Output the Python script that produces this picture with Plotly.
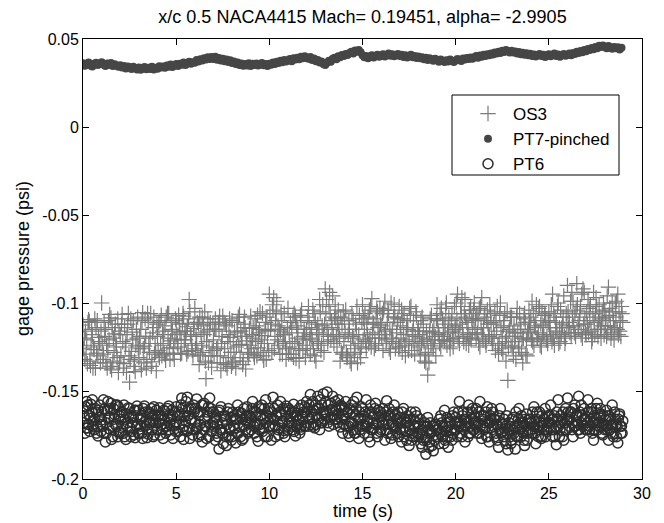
import plotly.graph_objects as go

# ---------------- data ----------------
# three sample sets per 0.1 s step (a, b, c), 0.0 ... 28.97 s
time_a = [i / 10 for i in range(290)]
time_b = [i / 10 + 0.0333 for i in range(290)]
time_c = [i / 10 + 0.0667 for i in range(290)]

# PT7-pinched, units of 1e-4 psi (at time_a)
pt7_e4 = [
    362, 348, 357, 366, 350, 344, 359, 365, 352, 360,
    368, 355, 347, 361, 352, 364, 346, 357, 350, 343,
    351, 338, 346, 333, 344, 340, 329, 342, 335, 326,
    338, 325, 334, 341, 328, 336, 330, 342, 327, 337,
    331, 345, 338, 344, 336, 350, 342, 355, 341, 349,
    358, 346, 360, 354, 366, 352, 363, 371, 359, 368,
    365, 380, 372, 385, 378, 391, 383, 396, 387, 398,
    386, 399, 382, 392, 378, 388, 374, 383, 370, 379,
    364, 372, 358, 366, 352, 361, 348, 358, 350, 362,
    347, 359, 352, 361, 349, 357, 363, 351, 358, 346,
    360, 353, 366, 358, 371, 363, 376, 368, 381, 372,
    379, 386, 374, 390, 383, 394, 385, 399, 390, 402,
    394, 388, 398, 381, 389, 374, 381, 366, 372, 358,
    352, 365, 376, 371, 388, 393, 385, 402, 396, 409,
    403, 415, 409, 421, 427, 418, 435, 428, 438, 425,
    408, 396, 403, 391, 400, 407, 395, 404, 411, 399,
    406, 414, 401, 410, 417, 405, 413, 402, 409, 415,
    404, 411, 398, 407, 395, 403, 410, 397, 404, 392,
    400, 390, 397, 385, 393, 381, 390, 384, 376, 388,
    380, 371, 383, 375, 369, 379, 372, 383, 376, 370,
    378, 386, 381, 375, 389, 383, 392, 386, 395, 388,
    397, 404, 393, 406, 399, 410, 403, 413, 407, 418,
    412, 424, 417, 428, 421, 433, 426, 438, 430, 423,
    433, 424, 429, 418, 426, 414, 422, 411, 419, 408,
    416, 404, 412, 401, 409, 415, 403, 411, 398, 407,
    413, 402, 410, 417, 404, 412, 399, 408, 415, 405,
    411, 418, 407, 421, 415, 428, 420, 432, 425, 437,
    430, 443, 437, 449, 442, 455, 448, 461, 454, 463,
    456, 448, 460, 452, 444, 455, 447, 453, 441, 450,
]

# OS3, units of 1e-4 psi
os3_e4_a = [
    -1125, -1320, -1210, -1095, -1355, -1180, -1265, -1140, -1300, -1230,
    -1000, -1290, -1150, -1370, -1210, -1085, -1330, -1175, -1250, -1395,
    -1180, -1065, -1345, -1230, -1120, -1450, -1275, -1100, -1390, -1200,
    -1310, -1150, -1055, -1245, -1370, -1110, -1200, -1335, -1080, -1280,
    -1190, -1310, -1070, -1240, -1130, -1285, -1060, -1215, -1160, -1320,
    -1100, -1250, -1170, -1285, -1075, -1210, -1135, -980, -1190, -1300,
    -1030, -1230, -1120, -1300, -1080, -1180, -1430, -1090, -1150, -1365,
    -1210, -1090, -1340, -1160, -1385, -1075, -1260, -1130, -1310, -1195,
    -1100, -1280, -1370, -1170, -1065, -1235, -1330, -1140, -1215, -1290,
    -1075, -1200, -1310, -1130, -1255, -1050, -1185, -1325, -1110, -1230,
    -950, -1120, -1040, -1190, -990, -1240, -1160, -1290, -1060, -1320,
    -1030, -1250, -1140, -1310, -1080, -1200, -1330, -1100, -1270, -1170,
    -1150, -1020, -1290, -1210, -1060, -1330, -1120, -980, -1240, -1180,
    -920, -1150, -1020, -1210, -960, -1080, -1190, -1040, -1330, -1120,
    -1220, -1040, -1300, -1150, -1345, -1090, -1260, -1020, -1180, -1310,
    -1010, -1150, -1260, -1080, -1200, -975, -1120, -1240, -1050, -1180,
    -1130, -1270, -990, -1210, -1060, -1280, -1150, -1010, -1230, -1090,
    -1250, -1040, -1180, -1300, -1100, -1220, -1020, -1160, -1290, -1070,
    -1140, -1300, -1080, -1220, -1340, -1410, -1170, -1070, -1260, -1190,
    -1010, -1180, -1250, -1090, -1215, -1000, -1140, -1260, -1060, -1200,
    -1150, -950, -1230, -1060, -1190, -980, -1110, -1240, -1020, -1170,
    -1000, -1200, -1090, -1250, -970, -1140, -1220, -1040, -1180, -1110,
    -1230, -1050, -1160, -1290, -1000, -1200, -1100, -1330, -1440, -1150,
    -1080, -1300, -1190, -1030, -1250, -1120, -1340, -1060, -1210, -1150,
    -1160, -990, -1240, -1100, -1200, -1020, -1250, -1130, -1060, -1190,
    -1050, -1180, -950, -1240, -1110, -1000, -1220, -1140, -960, -1200,
    -900, -1110, -1190, -990, -1060, -890, -1150, -1020, -1200, -940,
    -1180, -980, -1100, -1220, -940, -1060, -1150, -1010, -1200, -1090,
    -1040, -1190, -910, -1130, -1000, -1210, -1080, -950, -1160, -1020,
]
os3_e4_b = [
    -1260, -1160, -1345, -1105, -1240, -1370, -1090, -1285, -1195, -1340,
    -1230, -1110, -1340, -1270, -1065, -1380, -1200, -1120, -1310, -1160,
    -1300, -1220, -1140, -1395, -1060, -1320, -1165, -1360, -1240, -1080,
    -1190, -1380, -1260, -1090, -1320, -1230, -1060, -1170, -1290, -1385,
    -1270, -1100, -1300, -1180, -1325, -1060, -1255, -1110, -1290, -1205,
    -1180, -1070, -1290, -1115, -1230, -1160, -1275, -1050, -1240, -1145,
    -1260, -1110, -1350, -1170, -1280, -1050, -1220, -1340, -1110, -1270,
    -1300, -1150, -1250, -1075, -1230, -1340, -1120, -1370, -1180, -1280,
    -1340, -1160, -1250, -1080, -1310, -1190, -1120, -1375, -1280, -1145,
    -1260, -1140, -1090, -1300, -1170, -1280, -1060, -1230, -1320, -1155,
    -1060, -1280, -970, -1100, -1210, -1150, -1050, -1220, -1180, -1260,
    -1290, -1110, -1220, -1060, -1315, -1150, -1260, -1040, -1190, -1310,
    -1260, -1110, -1180, -1040, -1300, -1150, -1230, -1050, -1130, -1280,
    -1060, -1220, -940, -1100, -1180, -1010, -1250, -1150, -1080, -1290,
    -1100, -1280, -1180, -1330, -1060, -1200, -1120, -1340, -1070, -1250,
    -1210, -1060, -1120, -1230, -1020, -1170, -1260, -1090, -1140, -1030,
    -1200, -1040, -1160, -1110, -1260, -1000, -1220, -1080, -1170, -1250,
    -1130, -1280, -1060, -1210, -1150, -1030, -1270, -1100, -1190, -1240,
    -1250, -1100, -1200, -1330, -1160, -1280, -1090, -1230, -1140, -1300,
    -1100, -1230, -1030, -1190, -1120, -1240, -1080, -1210, -1160, -1020,
    -1000, -1200, -1120, -970, -1220, -1080, -1180, -1040, -1210, -1100,
    -1150, -1060, -1230, -1020, -1180, -1080, -1240, -1120, -1010, -1200,
    -1120, -1270, -1020, -1230, -1140, -1280, -1060, -1190, -1250, -1080,
    -1250, -1130, -1320, -1170, -1060, -1280, -1200, -1110, -1300, -1040,
    -1080, -1220, -1130, -1010, -1170, -1240, -1050, -1190, -1100, -1230,
    -1140, -1010, -1200, -1080, -1170, -1230, -1040, -1120, -1190, -1060,
    -1050, -1170, -940, -1130, -1190, -1010, -1100, -1180, -920, -1080,
    -1050, -1170, -1010, -1200, -1110, -970, -1190, -1080, -1130, -1000,
    -1130, -960, -1070, -1200, -1050, -1140, -990, -1180, -1100, -1060,
]
os3_e4_c = [
    -1200, -1290, -1110, -1330, -1150, -1250, -1370, -1100, -1220, -1160,
    -1320, -1190, -1240, -1100, -1360, -1140, -1280, -1230, -1090, -1340,
    -1120, -1370, -1250, -1180, -1300, -1090, -1210, -1330, -1150, -1260,
    -1250, -1100, -1340, -1190, -1060, -1280, -1360, -1140, -1230, -1120,
    -1110, -1230, -1160, -1290, -1080, -1200, -1320, -1150, -1260, -1090,
    -1230, -1120, -1210, -1060, -1160, -1290, -1090, -1180, -1270, -1120,
    -1190, -1290, -1080, -1240, -1130, -1330, -1160, -1250, -1300, -1120,
    -1150, -1260, -1110, -1300, -1190, -1110, -1350, -1220, -1090, -1360,
    -1220, -1330, -1110, -1240, -1160, -1350, -1080, -1190, -1310, -1240,
    -1180, -1290, -1220, -1070, -1150, -1210, -1300, -1160, -1080, -1270,
    -1150, -1010, -1260, -1060, -1130, -1290, -1100, -1180, -1230, -1140,
    -1170, -1290, -1080, -1230, -1130, -1260, -1070, -1210, -1150, -1240,
    -1080, -1200, -1140, -1260, -1100, -1220, -1170, -1270, -1010, -1120,
    -980, -1190, -1060, -1140, -1230, -1090, -1120, -1200, -1280, -1050,
    -1170, -1310, -1100, -1240, -1190, -1290, -1150, -1230, -1280, -1110,
    -1090, -1220, -1180, -1040, -1250, -1110, -1200, -1030, -1230, -1120,
    -1060, -1180, -1230, -1040, -1150, -1200, -1080, -1260, -1110, -1020,
    -1200, -1090, -1240, -1140, -1270, -1070, -1180, -1230, -1050, -1160,
    -1180, -1230, -1120, -1290, -1210, -1340, -1240, -1160, -1210, -1090,
    -1170, -1060, -1210, -1140, -1030, -1170, -1220, -1100, -1250, -1130,
    -1090, -1170, -1020, -1140, -1060, -1230, -1140, -1200, -1090, -1040,
    -1090, -1170, -1030, -1140, -1210, -1060, -1100, -1190, -1060, -1230,
    -1180, -1100, -1240, -1070, -1260, -1130, -1220, -1050, -1160, -1240,
    -1170, -1220, -1080, -1260, -1150, -1200, -1090, -1290, -1170, -1110,
    -1210, -1060, -1140, -1200, -1030, -1120, -1180, -1070, -1210, -1110,
    -1100, -1220, -1060, -1160, -1020, -1140, -1180, -1080, -1230, -1130,
    -1140, -990, -1080, -1170, -1040, -1130, -1060, -950, -1120, -1170,
    -1120, -1030, -1160, -1060, -1180, -1020, -1100, -1150, -1050, -1180,
    -1080, -1150, -1030, -1170, -1100, -1000, -1150, -1050, -1190, -1110,
]

# PT6, units of 1e-4 psi
pt6_e4_a = [
    -1600, -1740, -1560, -1690, -1655, -1550, -1720, -1620, -1755, -1580,
    -1665, -1550, -1790, -1610, -1715, -1570, -1760, -1635, -1700, -1590,
    -1740, -1620, -1580, -1775, -1680, -1600, -1730, -1650, -1765, -1585,
    -1610, -1700, -1770, -1585, -1660, -1745, -1625, -1720, -1590, -1680,
    -1720, -1595, -1660, -1770, -1615, -1700, -1585, -1750, -1640, -1690,
    -1590, -1730, -1640, -1540, -1775, -1670, -1535, -1710, -1600, -1750,
    -1680, -1545, -1760, -1620, -1790, -1570, -1700, -1640, -1540, -1730,
    -1620, -1780, -1690, -1830, -1590, -1740, -1660, -1810, -1600, -1715,
    -1760, -1640, -1795, -1580, -1700, -1625, -1770, -1665, -1590, -1730,
    -1655, -1560, -1740, -1620, -1785, -1690, -1580, -1710, -1550, -1760,
    -1600, -1780, -1535, -1695, -1640, -1750, -1560, -1670, -1725, -1585,
    -1720, -1610, -1680, -1575, -1755, -1640, -1600, -1705, -1660, -1590,
    -1560, -1700, -1520, -1650, -1610, -1690, -1530, -1720, -1580, -1515,
    -1640, -1505, -1700, -1570, -1530, -1660, -1610, -1550, -1705, -1590,
    -1690, -1560, -1620, -1760, -1580, -1720, -1640, -1535, -1770, -1660,
    -1600, -1740, -1550, -1680, -1790, -1630, -1710, -1570, -1760, -1650,
    -1720, -1600, -1780, -1555, -1690, -1640, -1750, -1580, -1700, -1620,
    -1650, -1790, -1600, -1730, -1680, -1810, -1620, -1760, -1700, -1640,
    -1760, -1660, -1820, -1700, -1860, -1650, -1790, -1730, -1840, -1690,
    -1700, -1800, -1640, -1760, -1610, -1730, -1820, -1670, -1780, -1620,
    -1650, -1760, -1560, -1700, -1620, -1790, -1680, -1580, -1740, -1600,
    -1720, -1600, -1680, -1560, -1770, -1640, -1710, -1590, -1790, -1660,
    -1620, -1760, -1690, -1820, -1600, -1730, -1660, -1800, -1835, -1700,
    -1780, -1650, -1830, -1700, -1600, -1760, -1680, -1810, -1630, -1720,
    -1660, -1740, -1590, -1800, -1700, -1620, -1770, -1680, -1600, -1730,
    -1700, -1580, -1760, -1640, -1805, -1550, -1720, -1660, -1780, -1600,
    -1540, -1700, -1620, -1760, -1580, -1680, -1530, -1740, -1640, -1600,
    -1660, -1550, -1720, -1600, -1780, -1680, -1570, -1700, -1630, -1750,
    -1720, -1610, -1780, -1660, -1580, -1740, -1690, -1795, -1630, -1700,
]
pt6_e4_b = [
    -1680, -1590, -1710, -1640, -1575, -1700, -1660, -1740, -1610, -1690,
    -1620, -1740, -1680, -1560, -1650, -1775, -1600, -1690, -1580, -1730,
    -1660, -1700, -1760, -1630, -1595, -1710, -1640, -1750, -1610, -1690,
    -1740, -1640, -1600, -1700, -1765, -1620, -1680, -1640, -1750, -1610,
    -1640, -1750, -1690, -1610, -1740, -1600, -1720, -1660, -1770, -1620,
    -1680, -1620, -1760, -1600, -1700, -1560, -1640, -1770, -1660, -1580,
    -1600, -1710, -1640, -1750, -1580, -1660, -1770, -1590, -1690, -1620,
    -1700, -1650, -1760, -1610, -1720, -1800, -1640, -1690, -1760, -1650,
    -1620, -1710, -1660, -1740, -1640, -1780, -1600, -1720, -1680, -1640,
    -1720, -1620, -1680, -1760, -1590, -1640, -1730, -1600, -1680, -1620,
    -1700, -1620, -1660, -1760, -1580, -1710, -1640, -1600, -1760, -1660,
    -1600, -1700, -1620, -1730, -1640, -1690, -1740, -1580, -1620, -1700,
    -1640, -1580, -1690, -1560, -1710, -1600, -1660, -1550, -1680, -1620,
    -1560, -1680, -1610, -1650, -1690, -1560, -1660, -1630, -1580, -1740,
    -1600, -1700, -1740, -1600, -1680, -1560, -1740, -1700, -1620, -1590,
    -1690, -1620, -1700, -1760, -1580, -1720, -1640, -1690, -1610, -1730,
    -1640, -1690, -1620, -1740, -1600, -1770, -1620, -1710, -1660, -1760,
    -1720, -1620, -1760, -1680, -1640, -1720, -1780, -1660, -1620, -1740,
    -1700, -1800, -1740, -1680, -1780, -1720, -1680, -1810, -1700, -1760,
    -1760, -1660, -1730, -1700, -1780, -1650, -1700, -1760, -1640, -1720,
    -1720, -1620, -1680, -1760, -1660, -1700, -1620, -1740, -1660, -1720,
    -1640, -1740, -1620, -1700, -1660, -1720, -1620, -1760, -1680, -1600,
    -1700, -1660, -1780, -1640, -1740, -1690, -1780, -1640, -1720, -1760,
    -1660, -1740, -1620, -1760, -1680, -1640, -1740, -1660, -1780, -1660,
    -1720, -1620, -1700, -1660, -1760, -1680, -1640, -1720, -1760, -1640,
    -1640, -1720, -1660, -1760, -1620, -1700, -1640, -1760, -1680, -1720,
    -1620, -1660, -1720, -1600, -1700, -1640, -1720, -1580, -1700, -1660,
    -1720, -1620, -1660, -1740, -1640, -1600, -1720, -1640, -1700, -1640,
    -1660, -1720, -1640, -1740, -1700, -1620, -1760, -1660, -1700, -1740,
]
pt6_e4_c = [
    -1640, -1710, -1580, -1730, -1620, -1670, -1600, -1700, -1650, -1730,
    -1700, -1600, -1740, -1650, -1600, -1700, -1660, -1580, -1760, -1640,
    -1620, -1740, -1660, -1700, -1640, -1760, -1680, -1610, -1700, -1740,
    -1660, -1740, -1680, -1620, -1720, -1680, -1600, -1760, -1660, -1720,
    -1680, -1640, -1720, -1660, -1700, -1640, -1680, -1610, -1700, -1730,
    -1640, -1690, -1580, -1720, -1640, -1730, -1600, -1660, -1720, -1620,
    -1720, -1620, -1690, -1580, -1720, -1700, -1620, -1760, -1600, -1680,
    -1660, -1740, -1620, -1720, -1680, -1640, -1760, -1620, -1720, -1780,
    -1700, -1660, -1740, -1620, -1760, -1660, -1700, -1640, -1740, -1680,
    -1600, -1700, -1640, -1690, -1720, -1600, -1660, -1760, -1640, -1700,
    -1660, -1700, -1600, -1640, -1720, -1620, -1680, -1740, -1620, -1700,
    -1680, -1640, -1720, -1620, -1700, -1660, -1720, -1640, -1700, -1620,
    -1600, -1660, -1620, -1700, -1580, -1650, -1600, -1680, -1620, -1660,
    -1620, -1580, -1660, -1610, -1640, -1600, -1680, -1590, -1660, -1640,
    -1660, -1620, -1700, -1680, -1620, -1740, -1600, -1660, -1720, -1700,
    -1640, -1700, -1660, -1620, -1720, -1680, -1600, -1740, -1680, -1620,
    -1680, -1660, -1720, -1640, -1740, -1680, -1700, -1640, -1740, -1680,
    -1680, -1720, -1660, -1780, -1700, -1660, -1740, -1700, -1760, -1680,
    -1740, -1720, -1780, -1760, -1700, -1820, -1740, -1700, -1780, -1720,
    -1720, -1740, -1680, -1800, -1700, -1760, -1680, -1720, -1740, -1680,
    -1680, -1700, -1740, -1640, -1720, -1660, -1760, -1700, -1620, -1680,
    -1680, -1700, -1740, -1640, -1700, -1680, -1760, -1680, -1640, -1720,
    -1660, -1740, -1700, -1720, -1680, -1760, -1700, -1740, -1680, -1800,
    -1720, -1700, -1760, -1660, -1720, -1700, -1780, -1700, -1740, -1680,
    -1680, -1700, -1740, -1620, -1720, -1760, -1700, -1660, -1720, -1680,
    -1680, -1660, -1720, -1700, -1660, -1760, -1680, -1620, -1720, -1660,
    -1660, -1620, -1680, -1700, -1640, -1720, -1620, -1680, -1660, -1720,
    -1680, -1700, -1620, -1680, -1720, -1660, -1680, -1600, -1740, -1690,
    -1700, -1640, -1720, -1690, -1760, -1660, -1700, -1640, -1740, -1670,
]

series_names = ["OS3", "PT7-pinched", "PT6"]
x_tick_vals = [0, 5, 10, 15, 20, 25, 30]
x_tick_text = ["0", "5", "10", "15", "20", "25", "30"]
y_tick_vals = [0.05, 0.0, -0.05, -0.1, -0.15, -0.2]
y_tick_text = ["0.05", "0", "-0.05", "-0.1", "-0.15", "-0.2"]
title_text = "x/c 0.5 NACA4415 Mach= 0.19451, alpha= -2.9905"
x_label = "time (s)"
y_label = "gage pressure (psi)"

# interleave the a/b/c samples in time order
os3_t, os3_v, pt6_t, pt6_v = [], [], [], []
for k in range(290):
    os3_t += [time_a[k], time_b[k], time_c[k]]
    os3_v += [os3_e4_a[k] / 1e4, os3_e4_b[k] / 1e4, os3_e4_c[k] / 1e4]
    pt6_t += [time_a[k], time_b[k], time_c[k]]
    pt6_v += [pt6_e4_a[k] / 1e4, pt6_e4_b[k] / 1e4, pt6_e4_c[k] / 1e4]
pt7_v = [v / 1e4 for v in pt7_e4]

# ---------------- figure ----------------
FONT = "Liberation Sans, Arial, Helvetica, sans-serif"
W, H = 664, 523
L, R, T, B = 83, 22, 39, 44
PW, PH = W - L - R, H - T - B


def px_x(p):
    return (p - L) / PW


def px_y(p):
    return (H - B - p) / PH


fig = go.Figure()
fig.add_trace(go.Scatter(
    x=os3_t, y=os3_v, mode="markers", name=series_names[0],
    marker=dict(symbol="cross-thin-open", size=11, color="#7a7a7a",
                line=dict(width=1.2, color="#7a7a7a")),
))
fig.add_trace(go.Scatter(
    x=time_a, y=pt7_v, mode="markers", name=series_names[1],
    marker=dict(symbol="circle", size=8, color="#464646", line=dict(width=0)),
))
fig.add_trace(go.Scatter(
    x=pt6_t, y=pt6_v, mode="markers", name=series_names[2],
    marker=dict(symbol="circle-open", size=10, color="#2e2e2e",
                line=dict(width=1.5, color="#2e2e2e")),
))

axis_common = dict(
    showgrid=False, zeroline=False, showline=True, linecolor="black",
    linewidth=1, mirror="allticks", ticks="inside", ticklen=6,
    tickcolor="black", tickwidth=1,
    tickfont=dict(family=FONT, size=16, color="black"),
)

fig.update_layout(
    width=W, height=H,
    margin=dict(l=L, r=R, t=T, b=B, pad=0),
    paper_bgcolor="white", plot_bgcolor="white",
    font=dict(family=FONT, size=16, color="black"),
    title=dict(text=title_text, x=0.5, xref="paper",
               xanchor="center", y=1 - 17 / H, yref="container",
               yanchor="middle", font=dict(family=FONT, size=18, color="black")),
    xaxis=dict(range=[0, 30], tickmode="array", tickvals=x_tick_vals,
               ticktext=x_tick_text, **axis_common),
    yaxis=dict(range=[-0.2, 0.05], tickmode="array", tickvals=y_tick_vals,
               ticktext=y_tick_text, **axis_common),
    annotations=[
        dict(text=x_label, xref="paper", yref="paper", x=0.5, y=px_y(511),
             xanchor="center", yanchor="middle", showarrow=False,
             font=dict(family=FONT, size=18, color="black")),
        dict(text=y_label, xref="paper", yref="paper", x=px_x(23), y=0.5,
             xanchor="center", yanchor="middle", showarrow=False, textangle=-90,
             font=dict(family=FONT, size=18, color="black")),
    ],
    showlegend=True,
    legend=dict(x=px_x(463), y=px_y(96), xanchor="left", yanchor="top",
                bgcolor="rgba(0,0,0,0)", borderwidth=0, itemwidth=40,
                font=dict(family=FONT, size=17, color="black"),
                tracegroupgap=0),
    shapes=[dict(type="rect", xref="paper", yref="paper",
                 x0=px_x(452), x1=px_x(619), y0=px_y(175), y1=px_y(95),
                 line=dict(color="black", width=1), fillcolor="white",
                 layer="below")],
)

fig.write_html(
    "out.html",
    config={"displayModeBar": False},
    post_script="document.body.style.margin='0';document.body.style.padding='0';",
)
